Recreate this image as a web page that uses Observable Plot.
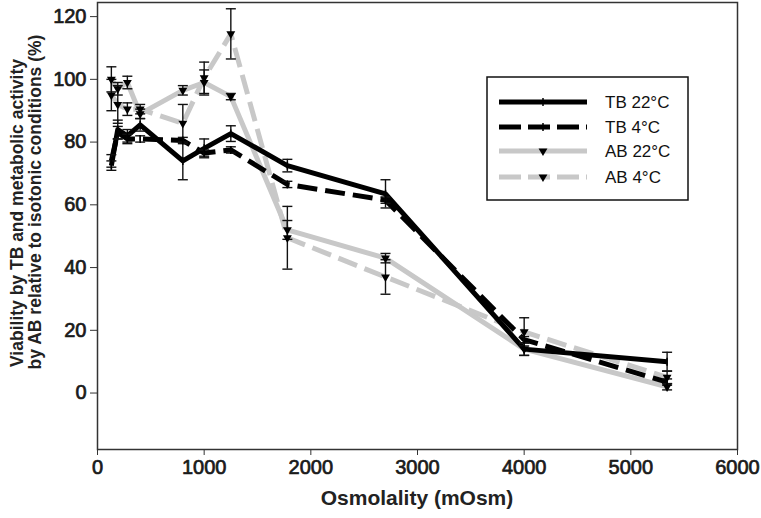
<!DOCTYPE html>
<html><head><meta charset="utf-8">
<script src="https://cdn.jsdelivr.net/npm/d3@7"></script>
<script src="https://cdn.jsdelivr.net/npm/@observablehq/plot@0.6"></script>
<style>body{margin:0;background:#fff;font-family:"Liberation Sans",Arial,sans-serif;}</style>
</head><body><div id="chart"></div>
<script>
const osmolality = [130, 190, 280, 400, 800, 1000, 1250, 1780, 2700, 4000, 5340];
const tb22 = [72.5, 84, 82, 85.5, 74, 78, 82.7, 72.5, 63.5, 14, 10];
const tb22Err = [1.5, 3, 2, 2, 6, 3, 2.5, 2, 4.5, 2, 3];
const tb4 = [74, 83, 81, 81, 80.5, 76.5, 77.5, 66.5, 61.5, 17, 3.5];
const tb4Err = [2, 2, 1.5, 1, 1, 1, 1, 1, 1, 1, 1];
const ab22 = [100, 97, 99, 89, 96.5, 99, 94.5, 52, 43, 14, 2];
const ab22Err = [4, 2, 2, 1.5, 1.5, 4, 1, 3, 1.5, 2, 1];
const ab4 = [95, 92, 90.5, 90.5, 86, 100.5, 114.5, 49.5, 37, 19.5, 5];
const ab4Err = [5, 6, 2, 1.5, 6, 5, 8, 10, 5.5, 4.5, 2];
const seriesNames = ["TB 22°C", "TB 4°C", "AB 22°C", "AB 4°C"];
const xTicks = [0, 1000, 2000, 3000, 4000, 5000, 6000];
const yTicks = [0, 20, 40, 60, 80, 100, 120];
const xTitle = "Osmolality (mOsm)";
const yTitle1 = "Viability by TB and metabolic activity";
const yTitle2 = "by AB relative to isotonic conditions (%)";

const seriesData = {
  "TB 22°C": [tb22, tb22Err],
  "TB 4°C": [tb4, tb4Err],
  "AB 22°C": [ab22, ab22Err],
  "AB 4°C": [ab4, ab4Err]
};
const styles = {
  "TB 22°C": {color: "#000", width: 5, dash: null, tri: false},
  "TB 4°C": {color: "#000", width: 5, dash: "20,8", tri: false},
  "AB 22°C": {color: "#c8c8c8", width: 5, dash: null, tri: true},
  "AB 4°C": {color: "#c8c8c8", width: 5, dash: "20,8", tri: true}
};
const rows = seriesNames.flatMap(s => osmolality.map((x, i) => ({
  series: s, x, y: seriesData[s][0][i], err: seriesData[s][1][i]
})));
const rowsOf = s => rows.filter(d => d.series === s);

const capSymbol = {draw(ctx, size) { const r = Math.sqrt(size / Math.PI); ctx.moveTo(-r, 0); ctx.lineTo(r, 0); }};
const vtickSymbol = {draw(ctx, size) { const r = Math.sqrt(size / Math.PI); ctx.moveTo(0, -r); ctx.lineTo(0, r); }};

const drawOrder = ["AB 22°C", "AB 4°C", "TB 4°C", "TB 22°C"];
const marks = [];
for (const s of drawOrder) {
  const st = styles[s];
  marks.push(Plot.line(rowsOf(s), {x: "x", y: "y", stroke: st.color, strokeWidth: st.width,
    strokeDasharray: st.dash, strokeLinejoin: "round", strokeLinecap: "butt"}));
}
marks.push(Plot.ruleX(rows, {x: "x", y1: d => d.y - d.err, y2: d => d.y + d.err, stroke: "#111", strokeWidth: 1.4}));
marks.push(Plot.dot(rows, {x: "x", y: d => d.y + d.err, symbol: capSymbol, r: 5, stroke: "#111", strokeWidth: 1.4, fill: "none"}));
marks.push(Plot.dot(rows, {x: "x", y: d => d.y - d.err, symbol: capSymbol, r: 5, stroke: "#111", strokeWidth: 1.4, fill: "none"}));
marks.push(Plot.dot(rows.filter(d => styles[d.series].tri), {x: "x", y: "y", symbol: "triangle", rotate: 180, r: 3.3, fill: "#000", stroke: "none"}));
marks.push(Plot.dot(rows.filter(d => !styles[d.series].tri), {x: "x", y: "y", symbol: vtickSymbol, r: 4, stroke: "#000", strokeWidth: 1.5}));

const svg = Plot.plot({
  width: 761, height: 518,
  marginLeft: 97, marginRight: 24, marginTop: 2, marginBottom: 69,
  style: {fontFamily: "'Liberation Sans', Arial, sans-serif", fontSize: "20px", color: "#222", background: "#fff"},
  x: {domain: [0, 6000]},
  y: {domain: [-18, 124.5]},
  marks: [
    Plot.axisX({ticks: xTicks, tickSize: 6, tickFormat: () => "", label: null, stroke: "#333"}),
    Plot.axisY({ticks: yTicks, tickSize: 7, tickFormat: () => "", label: null, stroke: "#333"}),
    Plot.text(xTicks, {x: d => d, frameAnchor: "bottom", dy: 24, text: d => String(d), fontSize: 20,
      fill: "#1a1a1a", stroke: "#1a1a1a", strokeWidth: 0.7, textAnchor: "middle", ariaLabel: "xticklabels"}),
    Plot.text(yTicks, {y: d => d, frameAnchor: "left", dx: -11, text: d => String(d), fontSize: 20,
      fill: "#1a1a1a", stroke: "#1a1a1a", strokeWidth: 0.7, textAnchor: "end", ariaLabel: "yticklabels"}),
    ...marks,
    Plot.frame({stroke: "#333", strokeWidth: 1.5})
  ]
});

const sel = d3.select(svg);
sel.selectAll("g[aria-label='xticklabels'] text, g[aria-label='yticklabels'] text")
  .style("letter-spacing", "1.3px");

sel.append("text").attr("x", 417).attr("y", 505).attr("text-anchor", "middle")
  .attr("font-weight", "bold").attr("font-size", 21).attr("fill", "#222").text(xTitle);
sel.append("text").attr("transform", "translate(23,213) rotate(-90)").attr("text-anchor", "middle")
  .attr("font-weight", "bold").attr("font-size", 17.5).attr("fill", "#222").text(yTitle1);
sel.append("text").attr("transform", "translate(41,202) rotate(-90)").attr("text-anchor", "middle")
  .attr("font-weight", "bold").attr("font-size", 17.5).attr("fill", "#222").text(yTitle2);

// legend
const lg = sel.append("g").attr("text-anchor", "start");
lg.append("rect").attr("x", 487).attr("y", 77).attr("width", 201).attr("height", 123)
  .attr("fill", "#fff").attr("stroke", "#111").attr("stroke-width", 1.5);
const legendY = [102, 127, 151, 177];
seriesNames.forEach((s, i) => {
  const st = styles[s];
  const y = legendY[i];
  lg.append("line").attr("x1", 499).attr("x2", 587).attr("y1", y).attr("y2", y)
    .attr("stroke", st.color).attr("stroke-width", st.width)
    .attr("stroke-dasharray", st.dash ? "22,7" : null);
  if (st.tri) {
    lg.append("path").attr("d", d3.symbol(d3.symbolTriangle, 34)()).attr("transform", `translate(543,${y}) rotate(180)`).attr("fill", "#000");
  } else {
    lg.append("line").attr("x1", 543).attr("x2", 543).attr("y1", y - 4).attr("y2", y + 4).attr("stroke", "#000").attr("stroke-width", 1.5);
  }
  lg.append("text").attr("x", 605).attr("y", y + 6).attr("text-anchor", "start")
    .attr("font-size", 17).attr("fill", "#111").text(s);
});

document.getElementById("chart").appendChild(svg);
</script>
</body></html>
